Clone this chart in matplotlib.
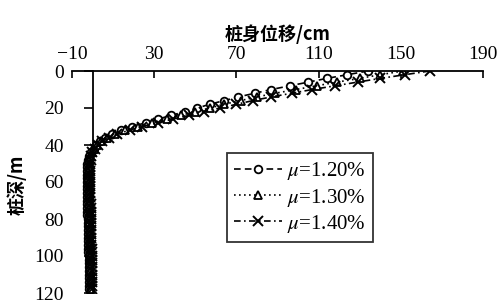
import matplotlib
matplotlib.use("Agg")
import matplotlib.pyplot as plt

# ---- data ----
depth = [0, 2, 4, 6, 8, 10, 12, 14, 16, 18, 20, 22, 24, 26, 28, 30, 32, 34, 36, 38,
         40, 42, 44, 46, 48, 50, 52, 54, 56, 58, 60, 62, 64, 66, 68, 70, 72, 74, 76, 78,
         80, 82, 84, 86, 88, 90, 92, 94, 96, 98, 100, 102, 104, 106, 108, 110, 112, 114, 116, 118]

disp_120 = [134, 124, 114, 105, 96, 87, 79, 71, 64, 57, 51, 45, 38, 32, 26, 19, 14, 9.5, 6, 3.5,
            1.8, 0.5, -0.8, -1.6, -2.2, -2.5, -2.7, -2.8, -2.8, -2.9, -2.9, -2.8, -2.8, -2.8, -2.7, -2.7, -2.6, -2.6, -2.5, -2.5,
            -2.4, -2.4, -2.3, -2.3, -2.2, -2.2, -2.1, -2.1, -2.0, -2.0, -1.9, -1.9, -1.8, -1.8, -1.8, -1.7, -1.7, -1.7, -1.6, -1.6]
disp_130 = [151, 140, 130, 119, 109, 99, 89, 80, 72, 64, 57, 50, 43, 36, 29, 22, 16, 11, 7, 4,
            2.2, 0.8, -0.5, -1.1, -1.5, -1.8, -1.9, -2.0, -2.0, -2.0, -1.9, -1.9, -1.9, -1.8, -1.8, -1.7, -1.7, -1.7, -1.6, -1.6,
            -1.5, -1.5, -1.4, -1.4, -1.4, -1.3, -1.3, -1.2, -1.2, -1.2, -1.1, -1.1, -1.0, -1.0, -1.0, -0.9, -0.9, -0.9, -0.8, -0.8]
disp_140 = [164, 152, 140, 129, 118, 107, 97, 87, 78, 70, 62, 54, 47, 39, 32, 24, 18, 12, 8, 4.5,
            2.5, 1.0, -0.2, -0.6, -0.9, -1.1, -1.2, -1.2, -1.2, -1.2, -1.1, -1.1, -1.1, -1.0, -1.0, -1.0, -0.9, -0.9, -0.9, -0.8,
            -0.8, -0.8, -0.7, -0.7, -0.7, -0.6, -0.6, -0.6, -0.5, -0.5, -0.5, -0.4, -0.4, -0.4, -0.3, -0.3, -0.3, -0.2, -0.2, -0.2]

series_labels = [r"$\mu$=1.20%", r"$\mu$=1.30%", r"$\mu$=1.40%"]
x_ticks = [-10, 30, 70, 110, 150, 190]
y_ticks = [0, 20, 40, 60, 80, 100, 120]
x_title = "桩身位移/cm"
y_title = "桩深/m"

# ---- style ----
plt.rcParams["font.family"] = ["Liberation Serif", "DejaVu Serif"]
plt.rcParams["mathtext.fontset"] = "stix"

fig = plt.figure(figsize=(5.02, 3.03), dpi=100)
ax = fig.add_axes([72 / 502, 1 - 293 / 303, 411 / 502, 222 / 303])

ax.plot(disp_120, depth, linestyle=(0, (4, 2.5)), color="black", lw=1.2,
        marker="o", markersize=5.5, markerfacecolor="white", markeredgewidth=1.3,
        label=series_labels[0])
ax.plot(disp_130, depth, linestyle=(0, (1, 2)), color="black", lw=1.2,
        marker="^", markersize=6, markerfacecolor="white", markeredgewidth=1.3,
        label=series_labels[1])
ax.plot(disp_140, depth, linestyle=(0, (4, 2, 1, 2)), color="black", lw=1.2,
        marker="x", markersize=7, markeredgewidth=1.4,
        label=series_labels[2])

ax.set_xlim(-10, 190)
ax.set_ylim(120, 0)

# axes decoration
ax.spines["right"].set_visible(False)
ax.spines["bottom"].set_visible(False)
ax.spines["left"].set_position(("data", 0))
ax.spines["top"].set_linewidth(1.3)
ax.spines["left"].set_linewidth(1.3)

ax.xaxis.tick_top()
ax.xaxis.set_label_position("top")
ax.set_xticks(x_ticks)
ax.set_xticklabels(["\u221210"] + [str(v) for v in x_ticks[1:]])
ax.tick_params(axis="x", direction="in", length=5, width=1.2, pad=6, labelsize=14)

ax.set_yticks(y_ticks)
ax.tick_params(axis="y", direction="out", length=6.5, width=1.2, pad=14, labelsize=14)

ax.set_xlabel(x_title, family=["Noto Sans CJK SC", "DejaVu Sans"], fontsize=13,
              weight="bold", labelpad=4)
fig.text(17 / 502, 1 - 185 / 303, y_title, family=["Noto Sans CJK SC", "DejaVu Sans"],
         fontsize=13, weight="bold", rotation=90, ha="center", va="center")

leg = ax.legend(loc="upper left", bbox_to_anchor=(0.377, 0.63), borderaxespad=0,
                fontsize=15, frameon=True, fancybox=False, handlelength=2.3,
                labelspacing=0.2, borderpad=0.35, handletextpad=0.25)
leg.get_frame().set_edgecolor("black")
leg.get_frame().set_linewidth(1.3)

fig.savefig("out.png", dpi=100)
